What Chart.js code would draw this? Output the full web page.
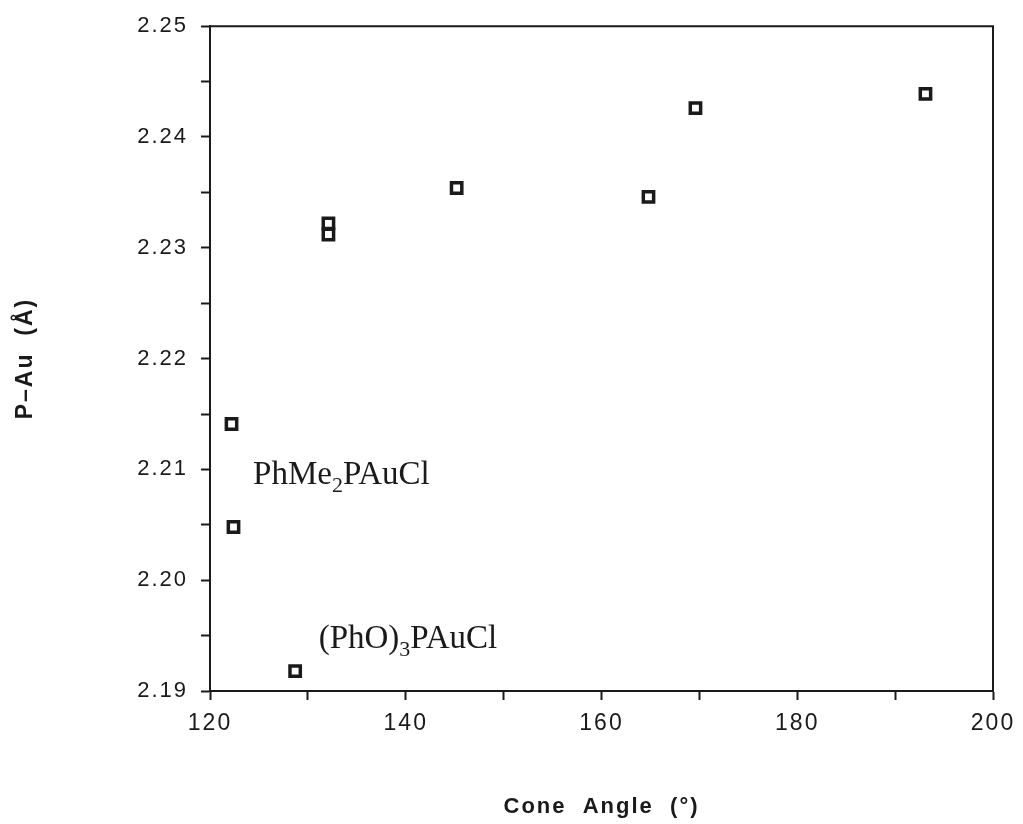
<!DOCTYPE html>
<html><head><meta charset="utf-8">
<script src="https://cdn.jsdelivr.net/npm/chart.js@4.4.1/dist/chart.umd.min.js"></script>
<style>html,body{margin:0;padding:0;background:#fff;overflow:hidden}#wrap{width:1023px;height:824px;position:relative}</style>
</head><body><div id="wrap"><canvas id="c"></canvas></div>
<script>
// ---- data ----
const coneAngle   = [122.2, 122.4, 128.7, 132.1, 132.1, 145.2, 164.8, 169.6, 193.1];
const pAuDistance = [2.2141, 2.2048, 2.1918, 2.2322, 2.2312, 2.2354, 2.2346, 2.2426, 2.2439];
const xTickLabels = ['120', '140', '160', '180', '200'];
const yTickLabels = ['2.19', '2.20', '2.21', '2.22', '2.23', '2.24', '2.25'];
const annotationText = [['PhMe', '2', 'PAuCl'], ['(PhO)', '3', 'PAuCl']];
const annotationAnchor = [[124.4, 2.2087], [131.1, 2.1939]];

const INK = '#1a1a1a';
const points = coneAngle.map((x, i) => ({x: x, y: pAuDistance[i]}));

const framePlugin = {
  id: 'frameAndLabels',
  beforeDraw(chart) {
    chart.ctx.letterSpacing = '2px';
  },
  afterDatasetsDraw(chart) {
    const {ctx, chartArea: a, scales} = chart;
    ctx.save();
    ctx.strokeStyle = INK;
    ctx.lineWidth = 2;
    ctx.beginPath();
    ctx.moveTo(a.left, a.top); ctx.lineTo(a.right, a.top); ctx.lineTo(a.right, a.bottom);
    ctx.stroke();
    ctx.letterSpacing = '0px';
    ctx.fillStyle = INK;
    ctx.textBaseline = 'alphabetic';
    ctx.textAlign = 'left';
    annotationText.forEach((parts, i) => {
      let x = scales.x.getPixelForValue(annotationAnchor[i][0]);
      const y = scales.y.getPixelForValue(annotationAnchor[i][1]);
      ctx.font = '33px "Liberation Serif", "Times New Roman", serif';
      ctx.fillText(parts[0], x, y); x += ctx.measureText(parts[0]).width;
      ctx.font = '22px "Liberation Serif", "Times New Roman", serif';
      ctx.fillText(parts[1], x, y + 8); x += ctx.measureText(parts[1]).width;
      ctx.font = '33px "Liberation Serif", "Times New Roman", serif';
      ctx.fillText(parts[2], x, y);
    });
    ctx.restore();
  }
};

new Chart(document.getElementById('c'), {
  type: 'scatter',
  data: {
    datasets: [
      {data: points, pointStyle: 'rect', radius: 7.3, hoverRadius: 7.3, borderWidth: 3.5,
       borderColor: INK, backgroundColor: '#ffffff'},
      {data: points, pointStyle: 'circle', radius: 1.4, hoverRadius: 1.4, borderWidth: 0,
       backgroundColor: INK}
    ]
  },
  options: {
    responsive: true, maintainAspectRatio: false, devicePixelRatio: 1, animation: false,
    layout: {padding: {top: 24, right: 30, left: 0, bottom: 0}},
    plugins: {legend: {display: false}, tooltip: {enabled: false}},
    scales: {
      x: {
        type: 'linear', min: 120, max: 200,
        afterFit: s => { s.height = 133; },
        border: {display: true, color: INK, width: 2},
        grid: {drawOnChartArea: false, color: INK, tickLength: 9, tickWidth: 2},
        ticks: {stepSize: 10, autoSkip: false, maxRotation: 0, color: INK, padding: 10,
          font: {family: '"Liberation Sans", Arial, sans-serif', size: 23},
          callback: v => { const s = String(Math.round(v)); return xTickLabels.includes(s) ? s : ''; }},
        title: {display: true, text: 'Cone  Angle  (°)', color: INK, padding: {top: 0, bottom: 4},
          font: {family: '"Liberation Sans", Arial, sans-serif', size: 22, weight: 'bold'}}
      },
      y: {
        type: 'linear', min: 2.19, max: 2.25,
        afterFit: s => { s.width = 210; },
        border: {display: true, color: INK, width: 2},
        grid: {drawOnChartArea: false, color: INK, tickLength: 9, tickWidth: 2},
        ticks: {stepSize: 0.005, autoSkip: false, color: INK, padding: 13,
          font: {family: '"Liberation Sans", Arial, sans-serif', size: 22},
          callback: v => { const s = v.toFixed(2); return (Math.abs(v * 100 - Math.round(v * 100)) < 1e-6 && yTickLabels.includes(s)) ? s : ''; }},
        title: {display: true, text: 'P–Au  (Å)', color: INK, padding: {top: 12, bottom: 0},
          font: {family: '"Liberation Sans", Arial, sans-serif', size: 23, weight: 'bold'}}
      }
    }
  },
  plugins: [framePlugin]
});
</script></body></html>
